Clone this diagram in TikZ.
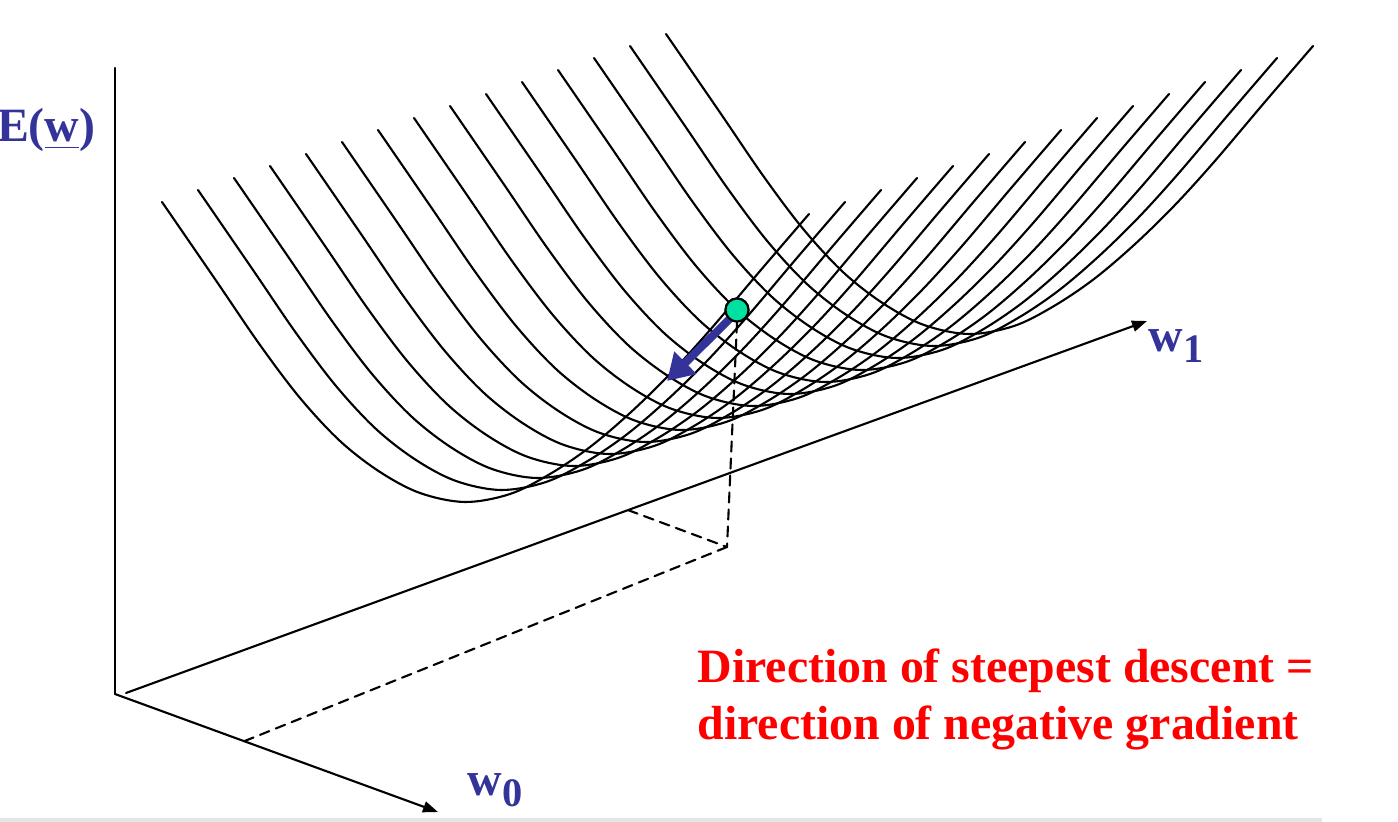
\documentclass[tikz,border=0pt]{standalone}
\usepackage{fontspec}
\setmainfont{Liberation Serif}
\usetikzlibrary{arrows.meta,calc}
\definecolor{labelblue}{RGB}{51,51,153}
\definecolor{ballgreen}{RGB}{0,224,160}
\tikzset{
  >={Latex},
  axis/.style  ={line width=0.6pt, -{Triangle[length=1.5mm,width=1.1mm]}},
  guide/.style ={line width=0.6pt, dash pattern=on 1mm off 0.7mm},
}

\begin{document}
\begin{tikzpicture}[x=0.01cm, y=-0.01cm, line cap=round,
  curve/.style={line width=0.6pt},
  lab/.style={font=\fontsize{13.6}{16}\selectfont\bfseries, text=labelblue, inner sep=0pt},
  note/.style={font=\fontsize{13.6}{16}\selectfont\bfseries, text=red, inner sep=0pt},
  ball/.style={circle, draw=black, line width=0.6pt, fill=ballgreen, minimum size=2.3mm, inner sep=0pt},
  steep/.style={line width=0.8mm, labelblue, -{Triangle[length=2.6mm,width=3mm]}}
]
\useasboundingbox (0,0) rectangle (1398,822);

%--- Axes (pixel coordinates of the slide) ---
\coordinate (O)     at (115,694);
\coordinate (Etop)  at (115,68);
\coordinate (w1beg) at (126,693);
\coordinate (w1end) at (1147,321);
\coordinate (w0end) at (438,812);

\draw[line width=0.6pt] (O) -- (Etop);
\draw[axis] (w1beg) -- (w1end);
\draw[axis] (O) -- (w0end);

\node[lab, anchor=base east] (Elab) at (96,142) {E(\underline{w})};
\node[lab, anchor=base west] (w1lab) at (1148,352) {w\raisebox{-3pt}{\fontsize{11.5}{12}\selectfont 1}};
\node[lab, anchor=base west] (w0lab) at (467,795) {w\raisebox{-3.4pt}{\fontsize{11.5}{12}\selectfont 0}};

%--- Error surface: one parabola, shifted along w1 ---
\foreach \i in {0,...,14}{
  \draw[curve, shift={(36*\i,-12*\i)}] plot[smooth, tension=0.55] coordinates {
    (162,202) (217,282) (260,345) (300,398) (340,441) (380,472) (420,493)
    (465,502) (510,494) (550,474) (590,447) (630,413) (670,374) (710,330)
    (760,271) (809,214)};
}

%--- Projection of the current point onto the (w0,w1) plane ---
\coordinate (foot)   at (727,547);
\coordinate (w1mark) at ($(w1beg)!0.4917!(w1end)$);
\coordinate (w0mark) at ($(O)!0.40!(w0end)$);
\node[ball] (pt) at (737,310) {};

\draw[guide] (pt.south) -- (foot);
\draw[guide] (w1mark) -- (foot);
\draw[guide] (w0mark) -- (foot);

% step along the negative gradient
\coordinate (tip) at (667,381);
\draw[steep] (pt.230) -- (tip);
\node[ball] at (pt) {};

%--- Caption ---
\node[note, anchor=base west] (msgA) at (697,682) {Direction of steepest descent =};
\node[note, anchor=base west] (msgB) at (697,739) {direction of negative gradient};

% slide edge
\fill[gray!20] (0,818) rectangle (1322,822);

\end{tikzpicture}
\end{document}
